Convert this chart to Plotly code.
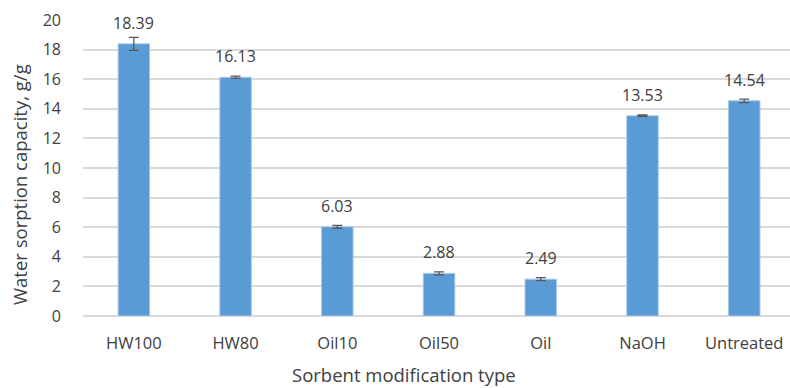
import plotly.graph_objects as go

categories = ["HW100", "HW80", "Oil10", "Oil50", "Oil", "NaOH", "Untreated"]
values = [18.39, 16.13, 6.03, 2.88, 2.49, 13.53, 14.54]
errors = [0.44, 0.08, 0.10, 0.10, 0.10, 0.05, 0.12]
labels = ["18.39", "16.13", "6.03", "2.88", "2.49", "13.53", "14.54"]
y_ticks = [0, 2, 4, 6, 8, 10, 12, 14, 16, 18, 20]

font_family = "Open Sans, Liberation Sans, sans-serif"
text_color = "#404040"

W, H = 790, 388
ML, MR, MT, MB = 83, 0, 20, 72

fig = go.Figure()
fig.add_trace(go.Bar(
    x=categories,
    y=values,
    width=0.31,
    marker=dict(color="#5b9bd5", line=dict(color="#a9c8ea", width=1)),
    error_y=dict(type="data", array=errors, visible=True, color="#595959",
                 thickness=1.3, width=5),
    hoverinfo="skip",
))

for c, v, t in zip(categories, values, labels):
    fig.add_annotation(x=c, y=v, text=t, showarrow=False, yanchor="middle",
                       yshift=21, font=dict(size=16, color=text_color, family=font_family))

pw = W - ML - MR
ph = H - MT - MB
fig.add_annotation(xref="paper", yref="paper", x=(404 - ML) / pw, y=-(374 - (H - MB)) / ph,
                   text="Sorbent modification type", showarrow=False,
                   xanchor="center", yanchor="middle", borderpad=0,
                   font=dict(size=18.5, color=text_color, family=font_family))
fig.add_annotation(xref="paper", yref="paper", x=-(ML - 19) / pw, y=((H - MB) - 185) / ph,
                   text="Water sorption capacity, g/g", showarrow=False, textangle=-90,
                   xanchor="center", yanchor="middle", borderpad=0,
                   font=dict(size=18.5, color=text_color, family=font_family))

fig.update_layout(
    width=W, height=H,
    margin=dict(l=ML, r=MR, t=MT, b=MB, autoexpand=False),
    plot_bgcolor="white", paper_bgcolor="white",
    showlegend=False,
    font=dict(family=font_family, color=text_color, size=16),
)
fig.update_xaxes(
    range=[-0.5, 6.45],
    automargin=False,
    showgrid=False,
    showline=False,
    ticks="",
    ticklabelstandoff=15,
    tickfont=dict(size=16.5, color=text_color),
)
fig.update_yaxes(
    range=[0, 20],
    automargin=False,
    tickvals=y_ticks,
    showgrid=True, gridcolor="#d9d9d9", gridwidth=1.5,
    zeroline=True, zerolinecolor="#d9d9d9", zerolinewidth=1.5,
    showline=False, ticks="",
    ticklabelstandoff=21,
    tickfont=dict(size=16, color=text_color),
)

fig.write_html("out.html", config={"displayModeBar": False},
               post_script="document.body.style.margin='0';document.body.style.padding='0';")
